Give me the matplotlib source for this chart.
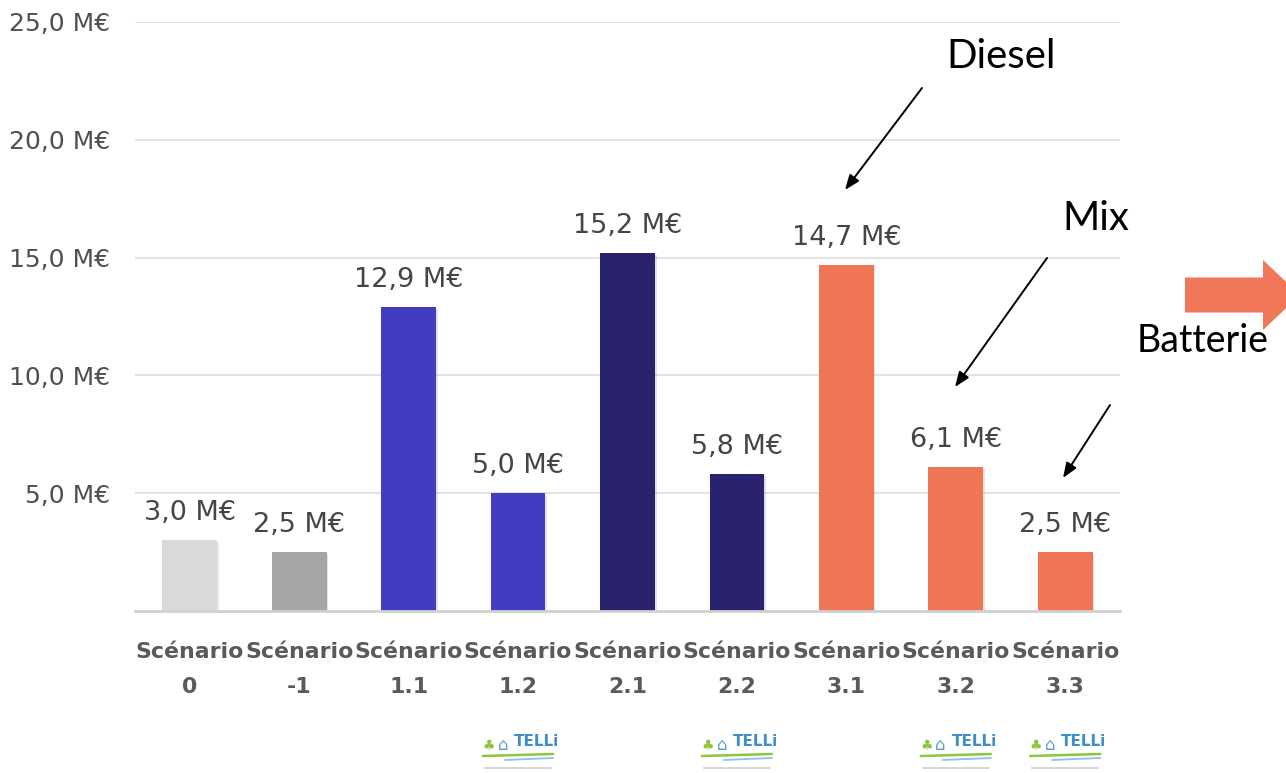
import matplotlib
matplotlib.use("Agg")
import matplotlib.pyplot as plt
import matplotlib.patheffects as pe
from matplotlib.patches import FancyArrow

# Scenario costs (millions of euros)
categories = ["Scénario\n0", "Scénario\n-1", "Scénario\n1.1", "Scénario\n1.2",
              "Scénario\n2.1", "Scénario\n2.2", "Scénario\n3.1", "Scénario\n3.2",
              "Scénario\n3.3"]
values = [3.0, 2.5, 12.9, 5.0, 15.2, 5.8, 14.7, 6.1, 2.5]
bar_colors = ["#D9D9D9", "#A6A6A6", "#423CC0", "#423CC0", "#29236F", "#29236F",
              "#EF7555", "#EF7555", "#EF7555"]
y_ticks = [5, 10, 15, 20, 25]
y_tick_labels = ["5,0 M€", "10,0 M€", "15,0 M€", "20,0 M€", "25,0 M€"]
# Scenarios that carry the TELLI logo
logo_idx = [3, 5, 7, 8]

W, H = 1286, 773
fig = plt.figure(figsize=(W / 100, H / 100), dpi=100)
ax = fig.add_axes([135 / W, 1 - 611 / H, (1120 - 135) / W, (611 - 22) / H])

LABEL_FONT = ["DejaVu Sans"]
NOTE_FONT = ["Lato", "DejaVu Sans"]

x = list(range(len(values)))
bars = ax.bar(x, values, width=0.5, color=bar_colors, zorder=3)
for b in bars:
    b.set_path_effects([pe.SimplePatchShadow(offset=(1.2, -1.2), alpha=0.12), pe.Normal()])

for xi, v in zip(x, values):
    ax.annotate(f"{v:.1f} M€".replace(".", ","), (xi, v), xytext=(0, 14.5),
                textcoords="offset points", ha="center", va="baseline",
                fontsize=19.5, color="#454545", family=LABEL_FONT)

ax.set_xlim(-0.5, len(values) - 0.5)
ax.set_ylim(0, 25)
ax.set_yticks(y_ticks)
ax.set_yticklabels(y_tick_labels, family=LABEL_FONT, fontsize=18, color="#505050")
ax.set_xticks(x)
ax.set_xticklabels(categories, family=LABEL_FONT, fontsize=15.8, fontweight="bold",
                   color="#5a5a5a", linespacing=1.95)
ax.tick_params(axis="y", length=0, pad=18)
ax.tick_params(axis="x", length=0, pad=22)

ax.grid(axis="y", color="#E3E3E3", linewidth=1.4, zorder=0)
for s in ["top", "right", "left"]:
    ax.spines[s].set_visible(False)
ax.spines["bottom"].set_color("#D0D0D0")
ax.spines["bottom"].set_linewidth(2)
ax.spines["bottom"].set_zorder(4)


def fp(px, py):
    """Pixel position (from top-left) to figure fraction."""
    return px / W, 1 - py / H


# Callout labels and arrows
notes = [("Diesel", (1001, 68), 29, (922, 88), (845, 190)),
         ("Mix", (1096, 230), 29, (1047, 258), (955, 387)),
         ("Batterie", (1203, 352), 27, (1110, 405), (1063, 478))]
for text, pos, size, start, end in notes:
    fig.text(*fp(*pos), text, ha="center", va="baseline", fontsize=size,
             color="black", family=NOTE_FONT)
    ax.annotate("", xy=fp(*end), xycoords="figure fraction",
                xytext=fp(*start), textcoords="figure fraction",
                arrowprops=dict(arrowstyle="-|>,head_length=0.9,head_width=0.35",
                                color="black", lw=1.4, shrinkA=0, shrinkB=0))

# Block arrow at right edge
x0, y0 = fp(1185, 295)
fig.add_artist(FancyArrow(x0, y0, (1300 - 1185) / W, 0, width=35 / H,
                          head_width=70 / H, head_length=37 / W,
                          length_includes_head=True, color="#F07757",
                          transform=fig.transFigure, linewidth=0))

# TELLI logos under selected scenarios
xtrans = ax.get_xaxis_transform()


def ay(py):
    """Pixel row to axes-fraction y."""
    return (611 - py) / 589


for i in logo_idx:
    ax.text(i + 0.17, ay(742), "TELLi", transform=xtrans, ha="center", va="center",
            fontsize=11, fontweight="bold", color="#3D8FC9",
            family=["DejaVu Sans"], clip_on=False)
    ax.text(i - 0.27, ay(746), "♣", transform=xtrans, ha="center", va="center",
            fontsize=10, color="#8DC63F", clip_on=False)
    ax.text(i - 0.14, ay(745), "⌂", transform=xtrans, ha="center", va="center",
            fontsize=12, color="#5B9BD0", clip_on=False)
    ax.plot([i - 0.32, i + 0.32], [ay(756), ay(754)], transform=xtrans,
            color="#8DC63F", lw=1.8, clip_on=False, solid_capstyle="round")
    ax.plot([i - 0.12, i + 0.32], [ay(760), ay(758)], transform=xtrans,
            color="#8DC2E6", lw=1.3, clip_on=False, solid_capstyle="round")
    ax.plot([i - 0.3, i + 0.3], [ay(768), ay(768)], transform=xtrans,
            color="#C9D6CC", lw=1.2, clip_on=False)

fig.savefig("out.png", dpi=100, facecolor="white")
